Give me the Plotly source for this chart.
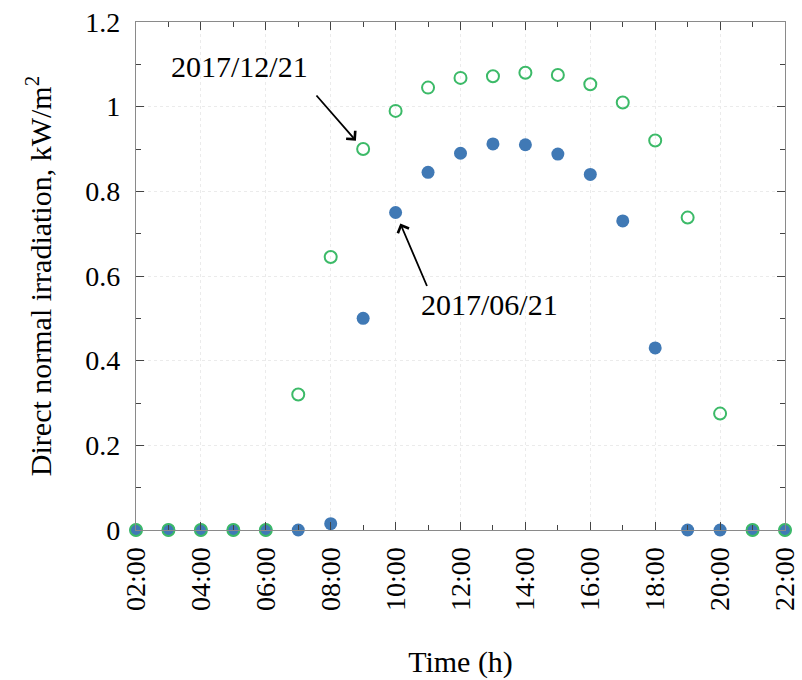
import plotly.graph_objects as go

hours = list(range(2, 23))
june = [0, 0, 0, 0, 0, 0, 0.015, 0.5, 0.75, 0.845, 0.89, 0.912, 0.91, 0.888, 0.84, 0.73, 0.43, 0, 0, 0, 0]
dec = [0, 0, 0, 0, 0, 0.32, 0.645, 0.9, 0.99, 1.045, 1.068, 1.072, 1.08, 1.075, 1.053, 1.01, 0.92, 0.738, 0.275, 0, 0]
xtick_vals = list(range(2, 23, 2))
xtick_text = ["%02d:00" % h for h in xtick_vals]
ytick_vals = [0, 0.2, 0.4, 0.6, 0.8, 1.0, 1.2]
ytick_text = ["0", "0.2", "0.4", "0.6", "0.8", "1", "1.2"]

FONT = "Liberation Serif, Times New Roman, serif"
BLUE = "#4079b5"
GREEN = "#3cba68"

fig = go.Figure()
fig.add_trace(go.Scatter(x=hours, y=june, mode="markers", name="2017/06/21",
                         marker=dict(color=BLUE, size=13, line=dict(width=0)),
                         cliponaxis=False))
fig.add_trace(go.Scatter(x=hours, y=dec, mode="markers", name="2017/12/21",
                         marker=dict(symbol="circle-open", color=GREEN, size=12, line=dict(width=2, color=GREEN)),
                         cliponaxis=False))

axis_common = dict(
    showline=True, linecolor="#8a8a8a", linewidth=1.2, mirror="ticks",
    ticks="inside", tickcolor="#444", ticklen=8, tickwidth=1,
    showgrid=True, gridcolor="#ebebeb", griddash="dot", gridwidth=1,
    zeroline=False, tickfont=dict(family=FONT, size=28, color="black"),
    automargin=False,
)

fig.update_xaxes(range=[2, 22], tickvals=xtick_vals, ticktext=xtick_text, tickangle=-90,
                 ticklabelstandoff=5,
                 minor=dict(dtick=1, tick0=2, ticks="inside", ticklen=5, tickcolor="#444", showgrid=False),
                 title=dict(text="Time (h)", font=dict(family=FONT, size=30, color="black"), standoff=40),
                 **axis_common)
fig.update_yaxes(range=[0, 1.2], tickvals=ytick_vals, ticktext=ytick_text,
                 ticklabelstandoff=9,
                 minor=dict(dtick=0.1, tick0=0, ticks="inside", ticklen=5, tickcolor="#444", showgrid=False),
                 title=dict(text="Direct normal irradiation, kW/m<sup>2</sup>", font=dict(family=FONT, size=30, color="black"), standoff=24),
                 **axis_common)

# arrows
fig.add_annotation(x=9, y=0.9, ax=-48, ay=-55, text="", showarrow=True, arrowhead=4,
                   arrowsize=1.3, arrowwidth=1.8, arrowcolor="black", standoff=11)
fig.add_annotation(x=10, y=0.75, ax=32, ay=75, text="", showarrow=True, arrowhead=4,
                   arrowsize=1.3, arrowwidth=1.8, arrowcolor="black", standoff=12)
# labels
fig.add_annotation(x=5.2, y=1.095, text="2017/12/21", showarrow=False,
                   font=dict(family=FONT, size=30, color="black"))
fig.add_annotation(x=12.9, y=0.533, text="2017/06/21", showarrow=False,
                   font=dict(family=FONT, size=30, color="black"))

fig.update_layout(width=802, height=680, margin=dict(l=136, r=17, t=22, b=150),
                  plot_bgcolor="white", paper_bgcolor="white", showlegend=False)

fig.write_html("out.html")
